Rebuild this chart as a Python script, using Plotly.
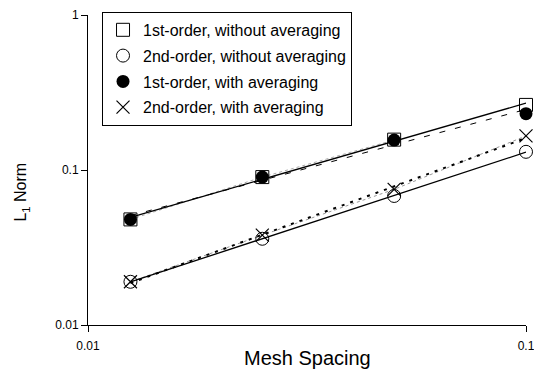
import numpy as np
import plotly.graph_objects as go

mesh = [0.0125, 0.025, 0.05, 0.1]
first_no_avg = [0.048, 0.090, 0.157, 0.263]
second_no_avg = [0.019, 0.036, 0.068, 0.131]
first_avg = [0.048, 0.090, 0.156, 0.231]
second_avg = [0.019, 0.038, 0.075, 0.166]

names = ["1st-order, without averaging", "2nd-order, without averaging",
         "1st-order, with averaging", "2nd-order, with averaging"]
x_ticks = [0.01, 0.1]
x_ticktext = ["0.01", "0.1"]
y_ticks = [0.01, 0.1, 1]
y_ticktext = ["0.01", "0.1", "1"]

FONT = "Liberation Sans, Arial, sans-serif"


def fit(x, y):
    lx, ly = np.log10(x), np.log10(y)
    b, a = np.polyfit(lx, ly, 1)
    xs = np.array([x[0], x[-1]])
    return xs, 10 ** (a + b * np.log10(xs))


fig = go.Figure()

# connecting lines (light grey)
fig.add_trace(go.Scatter(x=mesh, y=second_avg, mode="lines", showlegend=False,
                         line=dict(color="#999999", width=1, dash="3px,3px"),
                         hoverinfo="skip", cliponaxis=False))
fig.add_trace(go.Scatter(x=mesh[:3], y=first_avg[:3], mode="lines", showlegend=False,
                         line=dict(color="#aaaaaa", width=1, dash="3px,3px"),
                         hoverinfo="skip", cliponaxis=False))

# trend lines
for ys, dash, w in [(first_no_avg, "solid", 1.3),
                    (first_avg, "6px,10px", 1.0),
                    (second_no_avg, "solid", 1.3),
                    (second_avg, "3px,6px", 2.0)]:
    xs, yf = fit(mesh, ys)
    fig.add_trace(go.Scatter(x=xs, y=yf, mode="lines", showlegend=False,
                             line=dict(color="black", width=w, dash=dash),
                             hoverinfo="skip", cliponaxis=False))

markers = [
    dict(symbol="square-open", size=13, color="black", line=dict(width=1, color="black")),
    dict(symbol="circle-open", size=13, color="black", line=dict(width=1, color="black")),
    dict(symbol="circle", size=13, color="black"),
    dict(symbol="x-thin-open", size=13, color="black", line=dict(width=1.2, color="black")),
]
for i, (ys, mk) in enumerate(zip([first_no_avg, second_no_avg, first_avg, second_avg], markers)):
    fig.add_trace(go.Scatter(x=mesh, y=ys, mode="markers", name=names[i],
                             legendgroup=f"g{i}", marker=mk, cliponaxis=False))

axis_common = dict(type="log", showgrid=False, zeroline=False, showline=True,
                   linecolor="black", linewidth=1, ticks="outside", ticklen=6,
                   tickcolor="black", tickfont=dict(family=FONT, size=12, color="black"),
                   automargin=False, ticklabeloverflow="allow")

fig.update_xaxes(range=[-2.00001, -0.99999], tickvals=x_ticks, ticktext=x_ticktext,
                 ticklabelstandoff=4, **axis_common)
fig.update_yaxes(range=[-2.00001, 0.00001], tickvals=y_ticks, ticktext=y_ticktext,
                 **axis_common)

fig.add_annotation(text="Mesh Spacing", xref="paper", yref="paper", x=0.5, y=-0.106,
                   xanchor="center", yanchor="middle", showarrow=False,
                   font=dict(family=FONT, size=20, color="black"))
fig.add_annotation(text="L<sub>1</sub> Norm", xref="paper", yref="paper", x=-0.151, y=0.43,
                   xanchor="center", yanchor="middle", showarrow=False, textangle=-90,
                   font=dict(family=FONT, size=16, color="black"))

fig.update_layout(
    width=534, height=370,
    margin=dict(l=88, r=8, t=15, b=45),
    plot_bgcolor="white", paper_bgcolor="white",
    font=dict(family=FONT, color="black"),
    legend=dict(x=0.032, y=1.01, xanchor="left", yanchor="top",
                bgcolor="white", bordercolor="black", borderwidth=1,
                font=dict(family=FONT, size=16, color="black"),
                itemwidth=30, tracegroupgap=2),
)

fig.write_html("out.html", config={"displayModeBar": False},
               post_script="document.body.style.margin='0';document.body.style.overflow='hidden';")
